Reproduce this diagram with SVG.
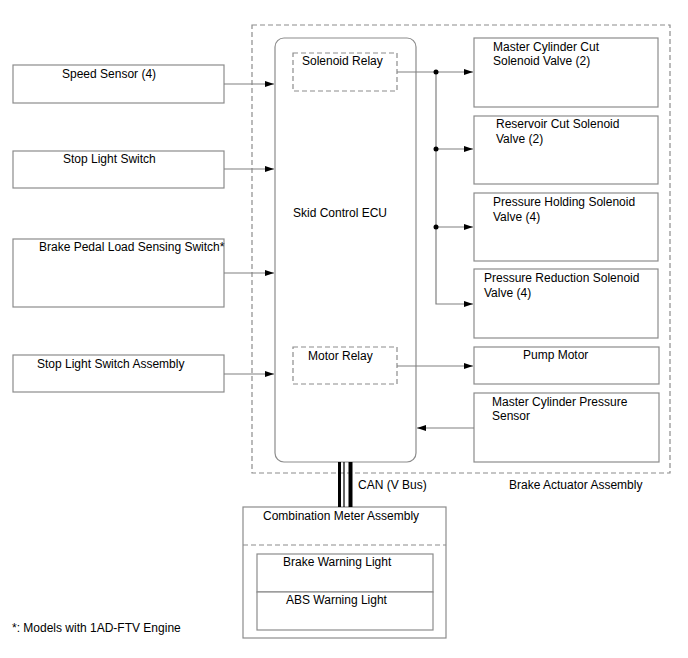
<svg xmlns="http://www.w3.org/2000/svg" width="688" height="658" viewBox="0 0 688 658">
<style>
text{font-family:"Liberation Sans",Arial,sans-serif;font-size:12px;fill:#000}
.box{fill:#fff;stroke:#8c8c8c;stroke-width:1.2}
.dash{fill:none;stroke:#8c8c8c;stroke-width:1.2;stroke-dasharray:5,3}
.wire{fill:none;stroke:#808080;stroke-width:1.2}
</style>
<defs>
<marker id="ah" markerWidth="10" markerHeight="8" refX="9" refY="4" orient="auto" markerUnits="userSpaceOnUse">
<path d="M0,1 L9,4 L0,7 Z" fill="#000"/>
</marker>
</defs>
<rect width="688" height="658" fill="#fff"/>
<g id="brake-actuator-assembly">
<rect class="dash" x="252" y="25" width="418" height="448"/>
<text x="509" y="489">Brake Actuator Assembly</text>
</g>
<g id="speed-sensor"><rect class="box" x="13" y="65" width="211" height="38"/><text x="62" y="78">Speed Sensor (4)</text></g>
<g id="stop-light-switch"><rect class="box" x="13" y="151" width="211" height="37"/><text x="63" y="163">Stop Light Switch</text></g>
<g id="brake-pedal-load-sensing-switch"><rect class="box" x="13" y="239" width="211" height="68"/><text x="39" y="251">Brake Pedal Load Sensing Switch*</text></g>
<g id="stop-light-switch-assembly"><rect class="box" x="13" y="355" width="211" height="37"/><text x="37" y="368">Stop Light Switch Assembly</text></g>
<g id="skid-control-ecu">
<rect class="box" x="275" y="38" width="141" height="424" rx="9" ry="9"/>
<text x="293" y="217">Skid Control ECU</text>
</g>
<g id="solenoid-relay"><rect class="dash" x="293" y="53" width="104" height="38"/><text x="302" y="65">Solenoid Relay</text></g>
<g id="motor-relay"><rect class="dash" x="293" y="347" width="104" height="37"/><text x="308" y="360">Motor Relay</text></g>
<g id="master-cylinder-cut-solenoid-valve"><rect class="box" x="474" y="38" width="184" height="69"/><text x="493" y="51">Master Cylinder Cut</text><text x="493" y="65">Solenoid Valve (2)</text></g>
<g id="reservoir-cut-solenoid-valve"><rect class="box" x="474" y="116" width="184" height="68"/><text x="496" y="128">Reservoir Cut Solenoid</text><text x="496" y="143">Valve (2)</text></g>
<g id="pressure-holding-solenoid-valve"><rect class="box" x="474" y="193" width="184" height="68"/><text x="493" y="206">Pressure Holding Solenoid</text><text x="493" y="221">Valve (4)</text></g>
<g id="pressure-reduction-solenoid-valve"><rect class="box" x="474" y="269" width="184" height="69"/><text x="484" y="282">Pressure Reduction Solenoid</text><text x="484" y="297">Valve (4)</text></g>
<g id="pump-motor"><rect class="box" x="474" y="347" width="185" height="37"/><text x="523" y="359">Pump Motor</text></g>
<g id="master-cylinder-pressure-sensor"><rect class="box" x="474" y="393" width="185" height="69"/><text x="492" y="406">Master Cylinder Pressure</text><text x="492" y="420">Sensor</text></g>
<g id="combination-meter-assembly">
<rect class="box" x="243" y="507" width="203" height="131"/>
<text x="263" y="520">Combination Meter Assembly</text>
<line class="dash" x1="243" y1="545" x2="446" y2="545"/>
</g>
<g id="brake-warning-light"><rect class="box" x="257" y="554" width="176" height="38"/><text x="283" y="566">Brake Warning Light</text></g>
<g id="abs-warning-light"><rect class="box" x="257" y="592" width="176" height="38"/><text x="286" y="604">ABS Warning Light</text></g>
<g id="connectors">
<line class="wire" x1="224" y1="84" x2="274" y2="84" marker-end="url(#ah)"/>
<line class="wire" x1="224" y1="169" x2="274" y2="169" marker-end="url(#ah)"/>
<line class="wire" x1="224" y1="273" x2="274" y2="273" marker-end="url(#ah)"/>
<line class="wire" x1="224" y1="374" x2="274" y2="374" marker-end="url(#ah)"/>
<line class="wire" x1="397" y1="72" x2="473" y2="72" marker-end="url(#ah)"/>
<polyline class="wire" points="436,72 436,304 473,304" marker-end="url(#ah)"/>
<line class="wire" x1="436" y1="149" x2="473" y2="149" marker-end="url(#ah)"/>
<line class="wire" x1="436" y1="227" x2="473" y2="227" marker-end="url(#ah)"/>
<circle cx="436" cy="72" r="2.5" fill="#000"/>
<circle cx="436" cy="149" r="2.5" fill="#000"/>
<circle cx="436" cy="227" r="2.5" fill="#000"/>
<line class="wire" x1="397" y1="366" x2="473" y2="366" marker-end="url(#ah)"/>
<line class="wire" x1="474" y1="428" x2="417" y2="428" marker-end="url(#ah)"/>
<line x1="339.5" y1="462" x2="339.5" y2="507" stroke="#000" stroke-width="3"/>
<line x1="344" y1="462" x2="344" y2="507" stroke="#000" stroke-width="1.2"/>
<line x1="350.5" y1="462" x2="350.5" y2="507" stroke="#000" stroke-width="4"/>
<text x="358" y="489">CAN (V Bus)</text>
</g>
<text x="12" y="632">*: Models with 1AD-FTV Engine</text>
</svg>
